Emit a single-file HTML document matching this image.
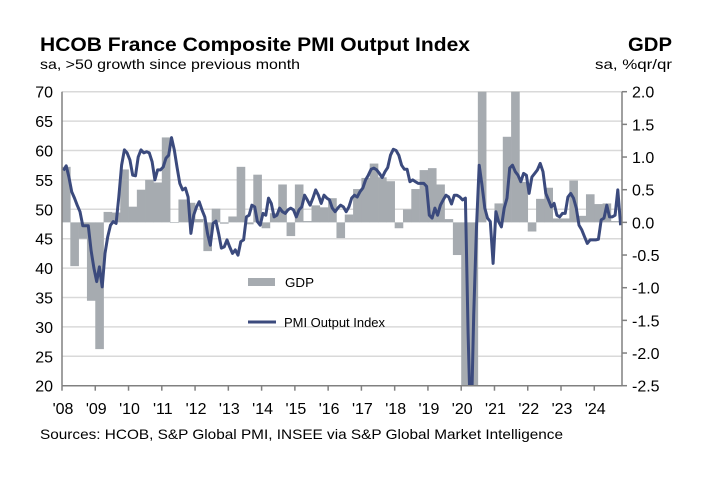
<!DOCTYPE html>
<html><head><meta charset="utf-8"><style>
html,body{margin:0;padding:0;background:#fff;width:705px;height:479px;overflow:hidden;}
svg{display:block;font-family:"Liberation Sans",Arial,sans-serif;}
</style></head><body>
<svg id="chart" width="705" height="479">
<text x="40" y="51" font-size="19" font-weight="bold" fill="#000" textLength="430" lengthAdjust="spacingAndGlyphs">HCOB France Composite PMI Output Index</text>
<text x="40" y="69" font-size="14" fill="#000" textLength="260" lengthAdjust="spacingAndGlyphs">sa, &gt;50 growth since previous month</text>
<text x="672" y="51" font-size="19" font-weight="bold" text-anchor="end" textLength="44" lengthAdjust="spacingAndGlyphs">GDP</text>
<text x="672" y="69" font-size="14" text-anchor="end" textLength="77" lengthAdjust="spacingAndGlyphs">sa, %qr/qr</text>
<g id="grid"></g><g id="bars"></g><g id="line"></g><g id="axes"></g>
<g>
<rect x="248" y="278" width="27" height="8" fill="#a6abb0"/>
<text x="285" y="287" font-size="13" textLength="29" lengthAdjust="spacingAndGlyphs">GDP</text>
<line x1="248" y1="322" x2="276" y2="322" stroke="#3b4a7d" stroke-width="3"/>
<text x="284" y="327" font-size="13" textLength="101" lengthAdjust="spacingAndGlyphs">PMI Output Index</text>
</g>
<text x="40" y="439" font-size="14" textLength="523" lengthAdjust="spacingAndGlyphs">Sources: HCOB, S&amp;P Global PMI, INSEE via S&amp;P Global Market Intelligence</text>
<defs><clipPath id="plotclip"><rect x="62" y="91.7" width="560" height="294"/></clipPath></defs>
</svg>
<script>
const yearLabels=["'08","'09","'10","'11","'12","'13","'14","'15","'16","'17","'18","'19","'20","'21","'22","'23","'24"];
const leftTicks=[20,25,30,35,40,45,50,55,60,65,70];
const rightTicks=["2.0","1.5","1.0","0.5","0.0","-0.5","-1.0","-1.5","-2.0","-2.5"];
const gdp=[0.85,-0.67,-0.25,-1.2,-1.94,0.16,0.15,0.81,0.24,0.5,0.65,0.61,1.3,-0.01,0.35,0.3,0.05,-0.44,0.21,-0.02,0.09,0.85,-0.03,0.73,-0.09,0.14,0.58,-0.21,0.58,0.02,0.26,0.23,0.37,-0.24,0.12,0.51,0.68,0.9,0.69,0.63,-0.09,0.2,0.51,0.8,0.83,0.58,0.05,-0.5,-5.4,-13.5,18.5,0.0,0.29,1.31,3.0,0.62,-0.14,0.36,0.53,0.06,0.06,0.64,0.1,0.43,0.28,0.29,0.02];
const pmi2008_2013=[56.6,57.4,55.5,53,51.9,50.7,49.6,47.2,47.2,47.2,43,40,
37.7,40.2,36.8,42.5,45.3,47.3,47.9,47.6,52.1,57.5,60.1,59.6,
58.4,55.8,55.7,58.9,60.1,59.6,59.8,59.6,58.1,55,56.7,56.7,
57.2,58.7,59.2,62.2,60.1,57.2,54.4,53.3,53.6,52.1,45.9,49,
50.4,51.3,49.9,48.7,45.9,43.9,47.6,48,45.9,43.4,43.6,44.8,
43.6,42.5,43.1,42.2,44.5,44.8,48.7,49,50.7,50.4,47.9,47.3];
const pmi2014_2019=[49.3,49,51.9,51,48.7,49,50.2,49.6,49.3,49.9,50.2,49.9,
48.7,49.9,50.4,52.4,51.6,50.7,51.9,53.3,52.4,51,52.4,51.9,
51.6,50.2,49.6,50.2,50.7,50.4,49.6,50.4,51.9,52.4,52.1,53,
53.6,55,55.8,56.8,57,56.7,56.1,55.4,56.4,57.1,59.2,60.2,
60,59.2,57.5,56.8,56.8,54.7,55,54.7,54.4,54.4,54.4,53.9,
49,48.5,50.2,49,50.7,51.6,52.4,52.1,50.9,52.4,52.4,52.1];
const pmi2020_2024=[51.6,51.9,28.9,11,32,47,57.5,54.1,50.2,48.5,47.9,40.8,
49.6,47.9,47,50.2,51.9,57,57.5,56.4,55.8,54.7,56.1,55.8,
52.7,55.5,56.1,56.7,57.8,56.4,52.7,51.6,50.4,51,49,48.7,
49.3,49.3,52.1,52.7,51.9,50.2,47.3,46.5,45.3,44.2,44.8,44.8,
44.8,44.9,48.2,48.5,50.7,48.7,48.7,49,53.3,47.3];
const pmi=pmi2008_2013.concat(pmi2014_2019,pmi2020_2024);

const NS="http://www.w3.org/2000/svg";
const X0=62,X1=622,YT=91.7,YB=385.7,YEARW=(X1-X0)/(16+10/12);
const yL=v=>YT+(70-v)*(YB-YT)/50;
const yR=v=>YT+(2-v)*(YB-YT)/4.5;
const xM=m=>X0+(m+0.5)*YEARW/12;
const xQ=q=>X0+q*YEARW/4;
function mk(tag,attrs,parent){const e=document.createElementNS(NS,tag);for(const k in attrs)e.setAttribute(k,attrs[k]);parent.appendChild(e);return e;}
const grid=document.getElementById('grid'),bars=document.getElementById('bars'),line=document.getElementById('line'),axes=document.getElementById('axes');
leftTicks.forEach(v=>{
 if(v>20){const g=mk('line',{x1:X0,x2:X1,y1:yL(v),y2:yL(v),stroke:'#d9d9d9','stroke-width':1.5},grid);
 
 }
 const t=mk('text',{x:53,y:yL(v)+6,'font-size':16,'text-anchor':'end'},axes);t.textContent=v;
 
 
});
rightTicks.forEach(s=>{const v=parseFloat(s);
 const t=mk('text',{x:632,y:yR(v)+6,'font-size':16},axes);t.textContent=s;
 
 
 mk('line',{x1:X1,x2:X1+5,y1:yR(v),y2:yR(v),stroke:'#808080','stroke-width':1.5},axes);
});
const bg=mk('g',{'clip-path':'url(#plotclip)'},bars);
gdp.forEach((v,i)=>{const y0=yR(0),y1=yR(v);
 const r=mk('rect',{x:xQ(i),width:YEARW/4+0.3,y:Math.min(y0,y1),height:Math.abs(y1-y0),fill:'#a6abb0'},bg);
 
 
});
const lg=mk('g',{'clip-path':'url(#plotclip)'},line);
const p=mk('path',{d:pmi.map((v,m)=>(m?'L':'M')+xM(m).toFixed(1)+','+yL(v).toFixed(1)).join(''),fill:'none',stroke:'#3b4a7d','stroke-width':3,'stroke-linejoin':'round'},lg);


mk('line',{x1:X0,x2:X0,y1:YT,y2:YB,stroke:'#808080','stroke-width':1.5},axes);
mk('line',{x1:X1,x2:X1,y1:YT,y2:YB,stroke:'#808080','stroke-width':1.5},axes);
mk('line',{x1:X0,x2:X1,y1:YB,y2:YB,stroke:'#808080','stroke-width':1.5},axes);
yearLabels.forEach((s,i)=>{const x=X0+i*YEARW;
 mk('line',{x1:x,x2:x,y1:YB,y2:YB+5,stroke:'#808080','stroke-width':1.5},axes);
 const t=mk('text',{x:x+1,y:414,'font-size':16,'text-anchor':'middle'},axes);t.textContent=s;
 
 
});
</script>
</body></html>
